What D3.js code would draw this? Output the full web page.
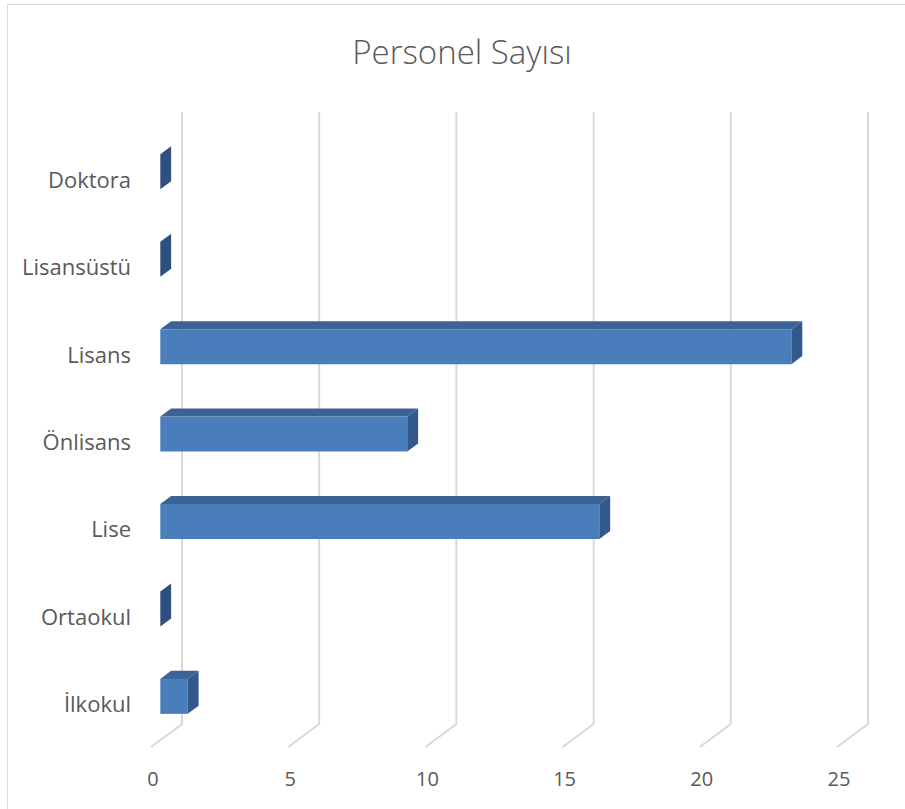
<!DOCTYPE html>
<html>
<head>
<meta charset="utf-8">
<script src="https://cdn.jsdelivr.net/npm/d3@7"></script>
<style>
  body { margin: 0; background: #fff; }
  svg { display: block; }
  text { font-family: "Open Sans", "Noto Sans", sans-serif; fill: #595959; }
</style>
</head>
<body>
<svg id="chart"></svg>
<script>
var categories = ["Doktora", "Lisansüstü", "Lisans", "Önlisans", "Lise", "Ortaokul", "İlkokul"];
var values = [0, 0, 23, 9, 16, 0, 1];
var ticks = [0, 5, 10, 15, 20, 25];
var title = "Personel Sayısı";

const width = 905;
const height = 809;
// back wall of the 3D plot
const plotTop = 112, plotFloor = 724;
// full depth offset of the floor (back -> front)
const depthX = -31, depthY = 23;
const barBack = 0.35, barFront = 0.7;

var svg = d3.select("#chart").attr("width", width).attr("height", height);

// chart frame
svg.append("rect")
    .attr("x", 7.5).attr("y", 4.5)
    .attr("width", width + 20).attr("height", height + 20)
    .attr("fill", "none").attr("stroke", "#d9d9d9").attr("stroke-width", 1);

svg.append("text")
    .attr("x", 462).attr("y", 64)
    .attr("text-anchor", "middle")
    .style("font-size", "33px")
    .style("font-weight", 300)
    .text(title);

var x = d3.scaleLinear().domain([0, 25]).range([182, 868]);
var y = d3.scaleBand().domain(categories).range([plotTop, plotFloor]).paddingInner(0.6).paddingOuter(0.3);

// project a point at depth t (0 = back wall, 1 = front edge)
function px(xv, t) { return xv + depthX * t; }
function py(yv, t) { return yv + depthY * t; }

// gridlines: vertical on the back wall, then slanting across the floor
svg.selectAll(".grid")
    .data(ticks)
    .enter().append("path")
    .attr("class", "grid")
    .attr("fill", "none")
    .attr("stroke", "#d9d9d9")
    .attr("stroke-width", 2)
    .attr("d", function(d) {
        return "M" + x(d) + "," + plotTop + "L" + x(d) + "," + plotFloor +
               "L" + px(x(d), 1) + "," + py(plotFloor, 1);
    });

svg.selectAll(".tick-label")
    .data(ticks)
    .enter().append("text")
    .attr("class", "tick-label")
    .attr("x", function(d) { return px(x(d), 1) + 2; })
    .attr("y", 786)
    .attr("text-anchor", "middle")
    .style("font-size", "20px")
    .text(function(d) { return d; });

svg.selectAll(".cat-label")
    .data(categories)
    .enter().append("text")
    .attr("class", "cat-label")
    .attr("x", 131)
    .attr("y", function(d) { return py(y(d) + y.bandwidth() / 2, 1) + 9; })
    .attr("text-anchor", "end")
    .style("font-size", "22px")
    .text(function(d) { return d; });

var bars = svg.selectAll(".bar")
    .data(categories.map(function(c, i) { return { cat: c, value: values[i] }; }))
    .enter().append("g")
    .attr("class", "bar");

function poly(pts) {
    return "M" + pts.map(function(p) { return p[0] + "," + p[1]; }).join("L") + "Z";
}

// top face
bars.filter(function(d) { return d.value > 0; })
    .append("path")
    .attr("fill", "#3c6396")
    .attr("d", function(d) {
        var y0 = y(d.cat), x0 = x(0), x1 = x(d.value);
        return poly([[px(x0, barBack), py(y0, barBack)], [px(x1, barBack), py(y0, barBack)],
                     [px(x1, barFront), py(y0, barFront)], [px(x0, barFront), py(y0, barFront)]]);
    });

// front face
bars.filter(function(d) { return d.value > 0; })
    .append("path")
    .attr("fill", "#4a7ebb")
    .attr("d", function(d) {
        var y0 = y(d.cat), y1 = y0 + y.bandwidth(), x0 = x(0), x1 = x(d.value);
        return poly([[px(x0, barFront), py(y0, barFront)], [px(x1, barFront), py(y0, barFront)],
                     [px(x1, barFront), py(y1, barFront)], [px(x0, barFront), py(y1, barFront)]]);
    });

// right side face
bars.append("path")
    .attr("fill", function(d) { return d.value > 0 ? "#33588a" : "#2e4f7f"; })
    .attr("d", function(d) {
        var y0 = y(d.cat), y1 = y0 + y.bandwidth(), x1 = x(d.value);
        return poly([[px(x1, barBack), py(y0, barBack)], [px(x1, barFront), py(y0, barFront)],
                     [px(x1, barFront), py(y1, barFront)], [px(x1, barBack), py(y1, barBack)]]);
    });
</script>
</body>
</html>
